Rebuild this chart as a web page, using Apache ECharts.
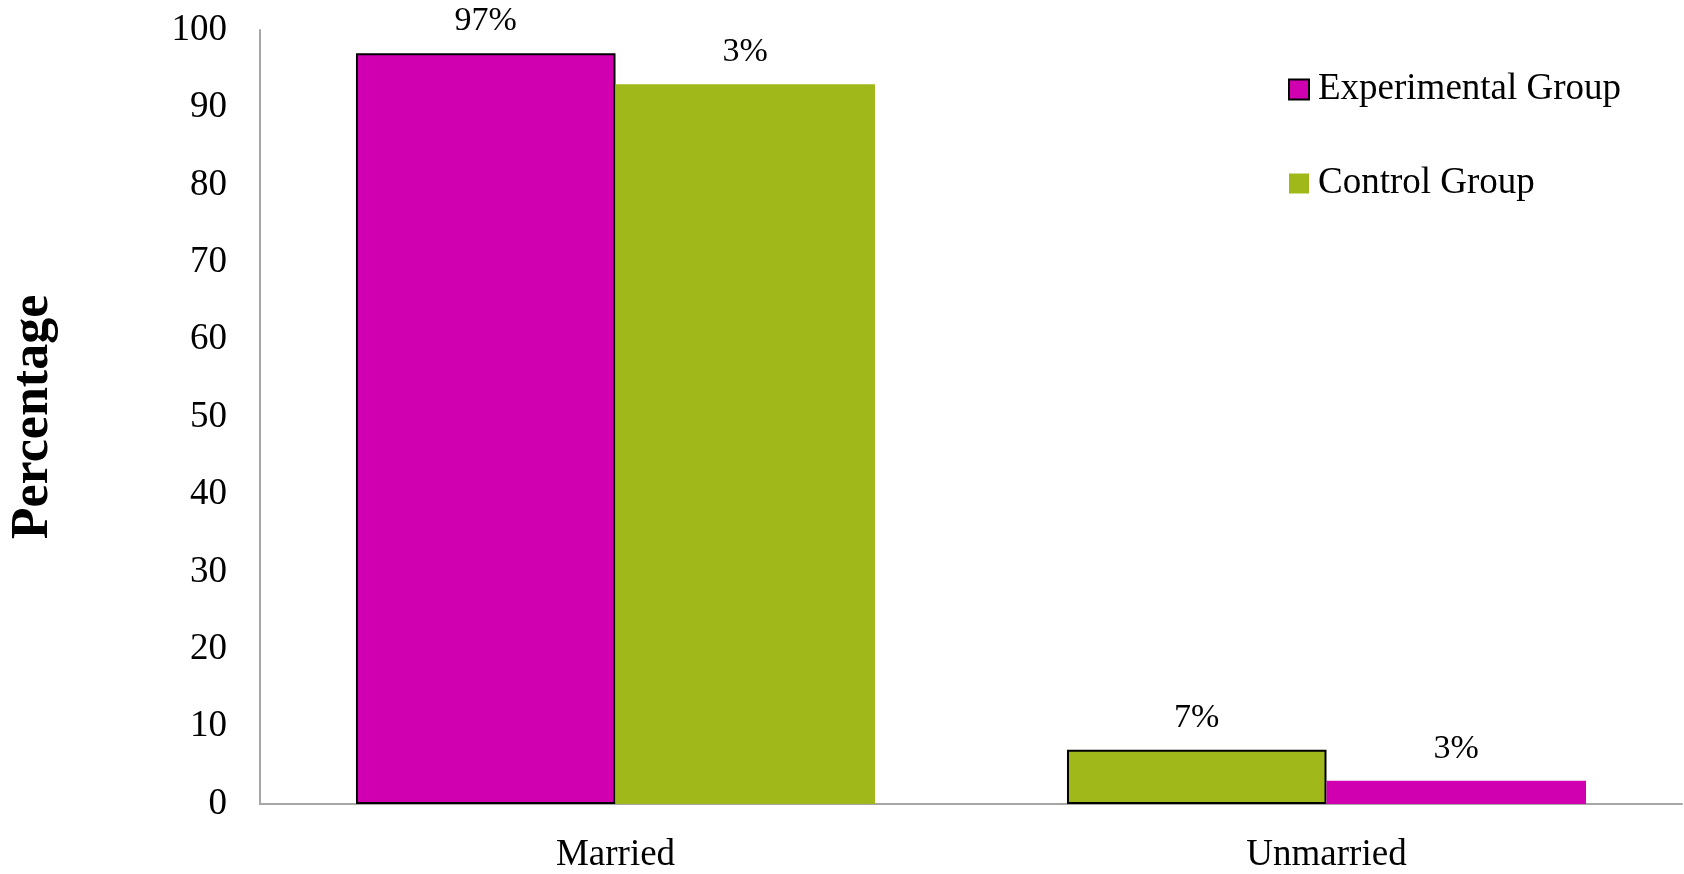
<!DOCTYPE html>
<html>
<head>
<meta charset="utf-8">
<script src="https://cdn.jsdelivr.net/npm/echarts@6/dist/echarts.min.js"></script>
<style>
html,body{margin:0;padding:0;background:#fff;}
#chart{width:1684px;height:874px;}
</style>
</head>
<body>
<div id="chart"></div>
<script>
const categories = ['Married', 'Unmarried'];
const seriesNames = ['Experimental Group', 'Control Group'];
const experimentalValues = [97, 7];
const controlValues = [93, 3];
const experimentalLabels = ['97%', '7%'];
const controlLabels = ['3%', '3%'];
const yTicks = [0, 10, 20, 30, 40, 50, 60, 70, 80, 90, 100];

const MAGENTA = '#D000B0';
const GREEN = '#A1B81A';
const FONT = '"Liberation Serif", "DejaVu Serif", serif';

const experimentalColors = [MAGENTA, GREEN];
const controlColors = [GREEN, MAGENTA];

const chart = echarts.init(document.getElementById('chart'));

function buildData(values, colors, labels) {
  return values.map((v, i) => ({
    value: v,
    itemStyle: { color: colors[i] },
    label: { formatter: labels[i] }
  }));
}

chart.setOption({
  animation: false,
  backgroundColor: '#fff',
  textStyle: { fontFamily: FONT },
  grid: { left: 257, right: 2, top: 30, bottom: 63, containLabel: false },
  legend: {
    orient: 'vertical',
    left: 1283,
    top: 66,
    icon: 'rect',
    itemWidth: 20,
    itemHeight: 20,
    itemGap: 57,
    textStyle: { fontFamily: FONT, fontSize: 37, color: '#000', padding: [0, 0, 0, 4] },
    data: seriesNames
  },
  xAxis: {
    type: 'category',
    data: categories,
    axisLine: { show: true, lineStyle: { color: '#A6A6A6', width: 2 } },
    axisTick: { show: false },
    axisLabel: { fontFamily: FONT, fontSize: 37, color: '#000', margin: 33 }
  },
  yAxis: {
    type: 'value',
    min: yTicks[0],
    max: yTicks[yTicks.length - 1],
    interval: yTicks[1] - yTicks[0],
    name: 'Percentage',
    nameLocation: 'middle',
    nameRotate: 90,
    nameGap: 200,
    nameTextStyle: { fontFamily: FONT, fontSize: 52, fontWeight: 'bold', color: '#000' },
    axisLine: { show: true, lineStyle: { color: '#A6A6A6', width: 2 } },
    axisTick: { show: false },
    splitLine: { show: false },
    axisLabel: { fontFamily: FONT, fontSize: 37, color: '#000', margin: 33 }
  },
  series: [
    {
      name: seriesNames[0],
      type: 'bar',
      barGap: '0%',
      barCategoryGap: '27%',
      itemStyle: { color: MAGENTA, borderColor: '#000', borderWidth: 2 },
      label: { show: true, position: 'top', distance: 15, fontFamily: FONT, fontSize: 34, color: '#000' },
      data: buildData(experimentalValues, experimentalColors, experimentalLabels)
    },
    {
      name: seriesNames[1],
      type: 'bar',
      barGap: '0%',
      barCategoryGap: '27%',
      itemStyle: { color: GREEN, borderWidth: 0 },
      label: { show: true, position: 'top', distance: 15, fontFamily: FONT, fontSize: 34, color: '#000' },
      data: buildData(controlValues, controlColors, controlLabels)
    }
  ]
});
</script>
</body>
</html>
